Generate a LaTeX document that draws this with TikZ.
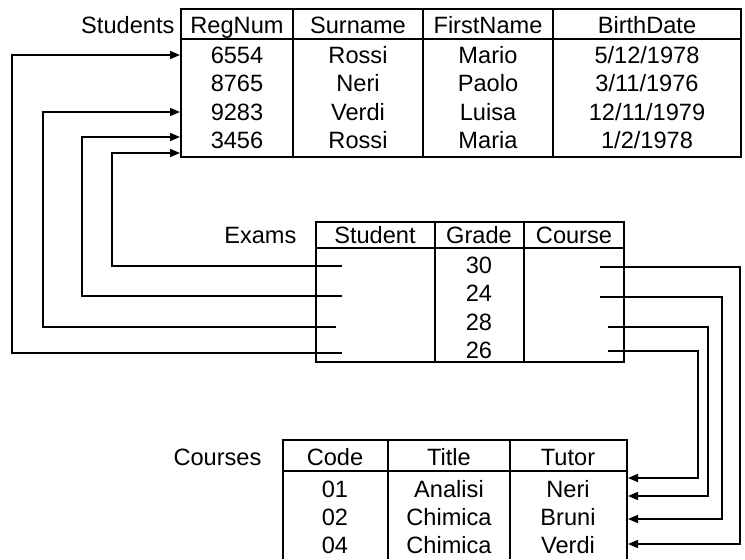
\documentclass[tikz,border=0pt]{standalone}
\usepackage{fontspec}
\setmainfont{Liberation Sans}
\usetikzlibrary{arrows.meta}

\begin{document}
\begin{tikzpicture}[x=0.5pt,y=-0.5pt,line width=0.6pt,cell/.style={inner sep=0pt,text height=8.4pt,text depth=0pt,font=\fontsize{11.8}{14}\selectfont},tname/.style={cell,anchor=east},link/.style={line width=0.8pt,-{Triangle[length=5pt,width=4pt]}}]
\def\dy{28.3};
\useasboundingbox (0,0) rectangle (745,559);

% Students
\draw (181,9) rectangle (741,157);
\draw (181,39) -- (741,39);
\foreach \x in {293,423,553} \draw (\x,9) -- (\x,157);
\node[tname] (students) at (175,25) {Students};
\node[cell] (hReg) at (237,25) {RegNum};
\node[cell] (hSur) at (358,25) {Surname};
\node[cell] (hFirst) at (488,25) {FirstName};
\node[cell] (hBirth) at (647,25) {BirthDate};
\foreach \a/\b/\c/\d [count=\i] in {6554/Rossi/Mario/{5/12/1978},8765/Neri/Paolo/{3/11/1976},9283/Verdi/Luisa/{12/11/1979},3456/Rossi/Maria/{1/2/1978}}{
  \node[cell] (reg\i) at (237,{55+\dy*(\i-1)}) {\a};
  \node[cell] (sur\i) at (358,{55+\dy*(\i-1)}) {\b};
  \node[cell] (first\i) at (488,{55+\dy*(\i-1)}) {\c};
  \node[cell] (birth\i) at (647,{55+\dy*(\i-1)}) {\d};
}

% Exams
\draw (316,222) rectangle (624,362);
\draw (316,248) -- (624,248);
\foreach \x in {435,524} \draw (\x,222) -- (\x,362);
\node[tname] (exams) at (297,235) {Exams};
\node[cell] (hStudent) at (375,235) {Student};
\node[cell] (hGrade) at (479,235) {Grade};
\node[cell] (hCourse) at (574,235) {Course};
\foreach \g [count=\i] in {30,24,28,26}
  \node[cell] (grade\i) at (479,{265+\dy*(\i-1)}) {\g};

% Courses
\draw (283,559) |- (627,440) -- (627,559);
\draw (283,471) -- (627,471);
\foreach \x in {388,510} \draw (\x,440) -- (\x,559);
\node[tname] (courses) at (262,457) {Courses};
\node[cell] (hCode) at (335,457) {Code};
\node[cell] (hTitle) at (449,457) {Title};
\node[cell] (hTutor) at (568,457) {Tutor};
\foreach \a/\b/\c [count=\i] in {01/Analisi/Neri,02/Chimica/Bruni,04/Chimica/Verdi}{
  \node[cell] (code\i) at (335,{489+28*(\i-1)}) {\a};
  \node[cell] (title\i) at (449,{489+28*(\i-1)}) {\b};
  \node[cell] (tutor\i) at (568,{489+28*(\i-1)}) {\c};
}

% link ends
\coordinate (stIn1) at (180,55);
\coordinate (stIn2) at (180,112);
\coordinate (stIn3) at (180,137);
\coordinate (stIn4) at (180,153);
\coordinate (exS1) at (342,266);
\coordinate (exS2) at (342,296);
\coordinate (exS3) at (336,327);
\coordinate (exS4) at (342,353);
\coordinate (exC1) at (600,267);
\coordinate (exC2) at (600,297);
\coordinate (exC3) at (608,327);
\coordinate (exC4) at (608,351);
\coordinate (coIn1) at (628,478);
\coordinate (coIn2) at (628,496);
\coordinate (coIn3) at (628,519);
\coordinate (coIn4) at (628,544);

% Exams.Student -> Students.RegNum
\draw[link] (exS1) -- ++(-230,0) |- (stIn4);
\draw[link] (exS2) -- ++(-260,0) |- (stIn3);
\draw[link] (exS3) -- ++(-293,0) |- (stIn2);
\draw[link] (exS4) -- ++(-330,0) |- (stIn1);

% Exams.Course -> Courses.Code
\draw[link] (exC1) -- ++(140,0) |- (coIn4);
\draw[link] (exC2) -- ++(122,0) |- (coIn3);
\draw[link] (exC3) -- ++(100,0) |- (coIn2);
\draw[link] (exC4) -- ++(90,0) |- (coIn1);

\end{tikzpicture}
\end{document}
